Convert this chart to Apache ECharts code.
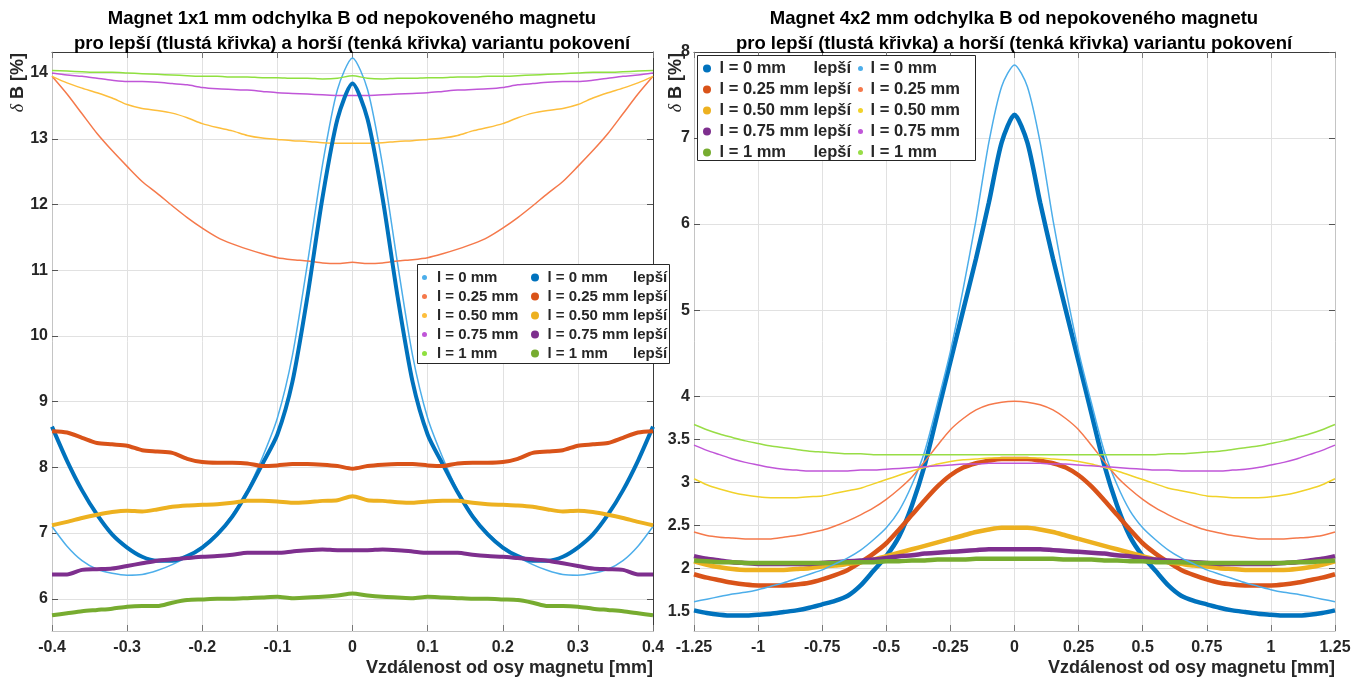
<!DOCTYPE html>
<html>
<head>
<meta charset="utf-8">
<script src="https://cdn.jsdelivr.net/npm/echarts@6/dist/echarts.min.js"></script>
<style>
html,body{margin:0;padding:0;background:#fff;}
#chart{width:1366px;height:681px;}
</style>
</head>
<body>
<div id="chart"></div>
<script>
// ---------- DATA ----------
const xLeft = [-0.40,-0.38,-0.36,-0.34,-0.32,-0.30,-0.28,-0.26,-0.24,-0.22,-0.20,-0.18,-0.16,-0.14,-0.12,-0.10,-0.08,-0.06,-0.04,-0.02,0,
  0.02,0.04,0.06,0.08,0.10,0.12,0.14,0.16,0.18,0.20,0.22,0.24,0.26,0.28,0.30,0.32,0.34,0.36,0.38,0.40];

// Left panel (1x1 mm) - thin = horší, thick = lepší
const leftThin0  = [7.10,6.80,6.58,6.45,6.39,6.36,6.37,6.43,6.52,6.64,6.80,7.00,7.28,7.65,8.15,8.75,9.70,11.10,12.60,13.75,14.23,
  13.75,12.60,11.10,9.70,8.75,8.15,7.65,7.28,7.00,6.80,6.64,6.52,6.43,6.37,6.36,6.39,6.45,6.58,6.80,7.10];
const leftThin25 = [13.95,13.68,13.38,13.08,12.82,12.58,12.35,12.17,11.98,11.80,11.64,11.50,11.40,11.32,11.25,11.19,11.16,11.14,11.11,11.10,11.12,
  11.10,11.11,11.14,11.16,11.19,11.25,11.32,11.40,11.50,11.64,11.80,11.98,12.17,12.35,12.58,12.82,13.08,13.38,13.68,13.95];
const leftThin50 = [13.95,13.85,13.77,13.70,13.62,13.52,13.46,13.43,13.39,13.32,13.23,13.17,13.12,13.05,13.01,12.99,12.97,12.96,12.94,12.93,12.93,
  12.93,12.94,12.96,12.97,12.99,13.01,13.05,13.12,13.17,13.23,13.32,13.39,13.43,13.46,13.52,13.62,13.70,13.77,13.85,13.95];
const leftThin75 = [14.00,13.97,13.95,13.92,13.89,13.87,13.87,13.86,13.84,13.82,13.78,13.76,13.75,13.74,13.72,13.70,13.69,13.68,13.67,13.66,13.66,
  13.66,13.67,13.68,13.69,13.70,13.72,13.74,13.75,13.76,13.78,13.82,13.84,13.86,13.87,13.87,13.89,13.92,13.95,13.97,14.00];
const leftThin1  = [14.04,14.03,14.02,14.01,14.01,14.00,13.99,13.98,13.97,13.96,13.95,13.95,13.94,13.94,13.93,13.93,13.92,13.92,13.91,13.92,13.96,
  13.92,13.91,13.92,13.92,13.93,13.93,13.94,13.94,13.95,13.95,13.96,13.97,13.98,13.99,14.00,14.01,14.01,14.02,14.03,14.04];

const leftThick0  = [8.62,8.10,7.65,7.28,6.98,6.78,6.64,6.58,6.58,6.65,6.78,6.98,7.25,7.62,8.05,8.50,9.30,10.60,12.10,13.30,13.84,
  13.30,12.10,10.60,9.30,8.50,8.05,7.62,7.25,6.98,6.78,6.65,6.58,6.58,6.64,6.78,6.98,7.28,7.65,8.10,8.62];
const leftThick25 = [8.55,8.53,8.45,8.37,8.35,8.33,8.26,8.24,8.22,8.13,8.08,8.07,8.07,8.06,8.02,8.03,8.05,8.05,8.04,8.02,7.98,
  8.02,8.04,8.05,8.05,8.03,8.02,8.06,8.07,8.07,8.08,8.13,8.22,8.24,8.26,8.33,8.35,8.37,8.45,8.53,8.55];
const leftThick50 = [7.12,7.17,7.23,7.28,7.32,7.34,7.33,7.36,7.40,7.42,7.43,7.44,7.46,7.49,7.49,7.48,7.46,7.47,7.49,7.50,7.56,
  7.50,7.49,7.47,7.46,7.48,7.49,7.49,7.46,7.44,7.43,7.42,7.40,7.36,7.33,7.34,7.32,7.28,7.23,7.17,7.12];
const leftThick75 = [6.37,6.37,6.44,6.45,6.46,6.50,6.54,6.58,6.60,6.62,6.64,6.65,6.67,6.70,6.70,6.70,6.72,6.74,6.75,6.74,6.74,
  6.74,6.75,6.74,6.72,6.70,6.70,6.70,6.67,6.65,6.64,6.62,6.60,6.58,6.54,6.50,6.46,6.45,6.44,6.37,6.37];
const leftThick1  = [5.75,5.78,5.81,5.83,5.85,5.88,5.89,5.89,5.94,5.98,5.99,6.00,6.00,6.01,6.02,6.03,6.01,6.02,6.03,6.05,6.08,
  6.05,6.03,6.02,6.01,6.03,6.02,6.01,6.00,6.00,5.99,5.98,5.94,5.89,5.89,5.88,5.85,5.83,5.81,5.78,5.75];

const xRight = [-1.25,-1.20,-1.15,-1.10,-1.05,-1.00,-0.95,-0.90,-0.85,-0.80,-0.75,-0.70,-0.65,-0.60,-0.55,-0.50,-0.45,-0.40,-0.35,-0.30,-0.25,-0.20,-0.15,-0.10,-0.05,0,
  0.05,0.10,0.15,0.20,0.25,0.30,0.35,0.40,0.45,0.50,0.55,0.60,0.65,0.70,0.75,0.80,0.85,0.90,0.95,1.00,1.05,1.10,1.15,1.20,1.25];

// Right panel (4x2 mm)
const rightThick0  = [1.51,1.48,1.46,1.45,1.45,1.46,1.47,1.49,1.51,1.54,1.58,1.62,1.68,1.80,1.97,2.14,2.37,2.73,3.20,3.80,4.40,5.00,5.60,6.25,6.95,7.27,
  6.95,6.25,5.60,5.00,4.40,3.80,3.20,2.73,2.37,2.14,1.97,1.80,1.68,1.62,1.58,1.54,1.51,1.49,1.47,1.46,1.45,1.45,1.46,1.48,1.51];
const rightThick25 = [1.93,1.89,1.86,1.83,1.81,1.80,1.80,1.80,1.81,1.83,1.87,1.92,1.98,2.07,2.17,2.29,2.45,2.62,2.79,2.95,3.08,3.17,3.22,3.25,3.27,3.27,
  3.27,3.25,3.22,3.17,3.08,2.95,2.79,2.62,2.45,2.29,2.17,2.07,1.98,1.92,1.87,1.83,1.81,1.80,1.80,1.80,1.81,1.83,1.86,1.89,1.93];
const rightThick50 = [2.08,2.04,2.01,1.99,1.98,1.98,1.98,1.98,1.99,2.00,2.02,2.03,2.05,2.07,2.10,2.14,2.18,2.22,2.26,2.30,2.34,2.38,2.42,2.45,2.47,2.47,
  2.47,2.45,2.42,2.38,2.34,2.30,2.26,2.22,2.18,2.14,2.10,2.07,2.05,2.03,2.02,2.00,1.99,1.98,1.98,1.98,1.98,1.99,2.01,2.04,2.08];
const rightThick75 = [2.14,2.11,2.09,2.07,2.06,2.05,2.05,2.05,2.05,2.05,2.06,2.07,2.08,2.09,2.10,2.12,2.14,2.15,2.17,2.18,2.19,2.20,2.21,2.22,2.22,2.22,
  2.22,2.22,2.21,2.20,2.19,2.18,2.17,2.15,2.14,2.12,2.10,2.09,2.08,2.07,2.06,2.05,2.05,2.05,2.05,2.05,2.06,2.07,2.09,2.11,2.14];
const rightThick1  = [2.09,2.08,2.07,2.07,2.06,2.06,2.06,2.06,2.06,2.06,2.06,2.06,2.07,2.07,2.07,2.08,2.08,2.09,2.09,2.10,2.10,2.10,2.11,2.11,2.11,2.11,
  2.11,2.11,2.11,2.10,2.10,2.10,2.09,2.09,2.08,2.08,2.07,2.07,2.07,2.06,2.06,2.06,2.06,2.06,2.06,2.06,2.06,2.07,2.07,2.08,2.09];

const rightThin0  = [1.61,1.64,1.67,1.70,1.72,1.75,1.79,1.83,1.88,1.93,1.98,2.05,2.12,2.21,2.33,2.47,2.67,2.97,3.36,3.92,4.52,5.25,6.05,6.95,7.60,7.85,
  7.60,6.95,6.05,5.25,4.52,3.92,3.36,2.97,2.67,2.47,2.33,2.21,2.12,2.05,1.98,1.93,1.88,1.83,1.79,1.75,1.72,1.70,1.67,1.64,1.61];
const rightThin25 = [2.42,2.38,2.36,2.35,2.34,2.34,2.34,2.36,2.38,2.41,2.44,2.49,2.55,2.62,2.70,2.80,2.92,3.06,3.24,3.43,3.61,3.74,3.84,3.90,3.93,3.94,
  3.93,3.90,3.84,3.74,3.61,3.43,3.24,3.06,2.92,2.80,2.70,2.62,2.55,2.49,2.44,2.41,2.38,2.36,2.34,2.34,2.34,2.35,2.36,2.38,2.42];
const rightThin50 = [3.04,2.97,2.92,2.88,2.85,2.83,2.82,2.82,2.82,2.83,2.84,2.87,2.90,2.93,2.98,3.03,3.08,3.13,3.17,3.21,3.24,3.26,3.27,3.28,3.28,3.28,
  3.28,3.28,3.27,3.26,3.24,3.21,3.17,3.13,3.08,3.03,2.98,2.93,2.90,2.87,2.84,2.83,2.82,2.82,2.82,2.83,2.85,2.88,2.92,2.97,3.04];
const rightThin75 = [3.43,3.37,3.32,3.27,3.23,3.20,3.17,3.15,3.14,3.13,3.13,3.13,3.13,3.14,3.14,3.15,3.16,3.17,3.18,3.19,3.20,3.21,3.21,3.22,3.22,3.22,
  3.22,3.22,3.21,3.21,3.20,3.19,3.18,3.17,3.16,3.15,3.14,3.14,3.13,3.13,3.13,3.13,3.14,3.15,3.17,3.20,3.23,3.27,3.32,3.37,3.43];
const rightThin1  = [3.67,3.61,3.56,3.52,3.48,3.45,3.42,3.40,3.38,3.36,3.35,3.34,3.33,3.33,3.32,3.32,3.32,3.32,3.32,3.32,3.32,3.32,3.32,3.32,3.32,3.32,
  3.32,3.32,3.32,3.32,3.32,3.32,3.32,3.32,3.32,3.32,3.32,3.33,3.33,3.34,3.35,3.36,3.38,3.40,3.42,3.45,3.48,3.52,3.56,3.61,3.67];

const thinNames  = ['l = 0 mm','l = 0.25 mm','l = 0.50 mm','l = 0.75 mm','l = 1 mm'];
const thickNames = ['l = 0 mm lepší','l = 0.25 mm lepší','l = 0.50 mm lepší','l = 0.75 mm lepší','l = 1 mm lepší'];
const leftYTicks  = [6,7,8,9,10,11,12,13,14];
const rightYTicks = [1.5,2,2.5,3,3.5,4,5,6,7,8];

const titleLeft  = 'Magnet 1x1 mm odchylka B od nepokoveného magnetu\npro lepší (tlustá křivka) a horší (tenká křivka) variantu pokovení';
const titleRight = 'Magnet 4x2 mm odchylka B od nepokoveného magnetu\npro lepší (tlustá křivka) a horší (tenká křivka) variantu pokovení';
const xName = 'Vzdálenost od osy magnetu [mm]';

// ---------- STYLE ----------
const FONT = '"Liberation Sans", Arial, Helvetica, sans-serif';
const thickColors = ['#0072BD','#D95319','#EDB120','#7E2F8E','#77AC30'];
const thinColorsL = ['#4DAEEA','#F5794B','#FDBE3C','#C056D8','#8FE03F'];
const thinColorsR = ['#4DAEEA','#F5794B','#F1D22A','#C056D8','#98DD46'];
const TXT = '#262626';

function mk(xs, ys, name, color, width, xi, yi, z) {
  return {
    type: 'line', name: name, xAxisIndex: xi, yAxisIndex: yi,
    data: xs.map((x, i) => [x, ys[i]]),
    showSymbol: false, symbol: 'circle', smooth: 0.25, z: z,
    lineStyle: {color: color, width: width},
    itemStyle: {color: color},
    emphasis: {disabled: true}
  };
}

const leftThin  = [leftThin0, leftThin25, leftThin50, leftThin75, leftThin1];
const leftThick = [leftThick0, leftThick25, leftThick50, leftThick75, leftThick1];
const rightThick = [rightThick0, rightThick25, rightThick50, rightThick75, rightThick1];
const rightThin  = [rightThin0, rightThin25, rightThin50, rightThin75, rightThin1];

const series = [];
leftThin.forEach((d, i) => series.push(mk(xLeft, d, thinNames[i], thinColorsL[i], 1.5, 0, 0, 2)));
leftThick.forEach((d, i) => series.push(mk(xLeft, d, thickNames[i], thickColors[i], 4, 0, 0, 3)));
// right panel series use a trailing space in names to keep legends separate
rightThick.forEach((d, i) => series.push(mk(xRight, d, thickNames[i] + ' ', thickColors[i], 4.5, 2, 2, 2)));
rightThin.forEach((d, i) => series.push(mk(xRight, d, thinNames[i] + ' ', thinColorsR[i], 1.5, 2, 2, 3)));

function xAxisMain(grid, min, max, interval) {
  return {
    type: 'value', gridIndex: grid, min: min, max: max, interval: interval,
    axisLine: {show: true, onZero: false, lineStyle: {color: '#c4c4c4', width: 1}},
    axisTick: {show: true, inside: true, length: 6, lineStyle: {color: '#777'}},
    axisLabel: {show: true, margin: 9, color: TXT, fontSize: 16, fontWeight: 'bold', fontFamily: FONT},
    splitLine: {show: true, lineStyle: {color: '#e1e1e1', width: 1}},
    name: xName, nameLocation: 'end', nameGap: 0, nameMoveOverlap: false,
    nameTextStyle: {color: TXT, fontSize: 18, fontWeight: 'bold', fontFamily: FONT,
      align: 'right', verticalAlign: 'top', padding: [28, 0, 0, 0]}
  };
}
function xAxisTop(grid, min, max, interval, lineColor) {
  return {
    type: 'value', gridIndex: grid, position: 'top', min: min, max: max, interval: interval,
    axisLine: {show: true, onZero: false, lineStyle: {color: lineColor, width: 1}},
    axisTick: {show: true, inside: true, length: 6, lineStyle: {color: '#777'}},
    axisLabel: {show: false}, splitLine: {show: false}
  };
}
function yAxisMain(grid, min, max, ticks, pad) {
  return {
    type: 'value', gridIndex: grid, min: min, max: max,
    axisLine: {show: true, onZero: false, lineStyle: {color: '#c4c4c4', width: 1}},
    axisTick: {show: true, inside: true, length: 6, customValues: ticks, lineStyle: {color: '#555'}},
    axisLabel: {show: true, margin: 4, customValues: ticks, color: TXT, fontSize: 16, fontWeight: 'bold', fontFamily: FONT},
    splitLine: {show: true, lineStyle: {color: '#e1e1e1', width: 1}},
    name: '{d|δ} B [%]', nameLocation: 'end', nameGap: -1, nameRotate: 90, nameMoveOverlap: false,
    nameTextStyle: {color: TXT, fontSize: 18, fontWeight: 'bold', fontFamily: FONT,
      align: 'right', verticalAlign: 'bottom', padding: [0, 0, pad, 0],
      rich: {d: {fontStyle: 'italic', fontWeight: 'normal', fontSize: 18, fontFamily: '"Liberation Serif", serif', color: TXT}}}
  };
}
function yAxisRight(grid, min, max, ticks, lineColor) {
  return {
    type: 'value', gridIndex: grid, position: 'right', min: min, max: max,
    axisLine: {show: true, onZero: false, lineStyle: {color: lineColor, width: 1}},
    axisTick: {show: true, inside: true, length: 6, customValues: ticks, lineStyle: {color: '#555'}},
    axisLabel: {show: false, customValues: ticks}, splitLine: {show: false}
  };
}

function legend(left, top, names, itemW, itemH, fontSize, lineHeight, richW) {
  const lg = {
    show: true, orient: 'vertical', left: left, top: top, padding: 0, itemGap: 0,
    itemWidth: itemW, itemHeight: itemH, icon: 'circle', selectedMode: false, z: 20,
    data: names.map(n => ({name: n, icon: 'circle'})),
    textStyle: {color: TXT, fontSize: fontSize, fontWeight: 'bold', fontFamily: FONT, lineHeight: lineHeight}
  };
  if (richW) {
    lg.formatter = function (name) {
      const s = name.trim().replace(/ lepší$/, '');
      return '{a|' + s + '}{b|lepší}';
    };
    lg.textStyle.rich = {
      a: {width: richW, fontSize: fontSize, fontWeight: 'bold', fontFamily: FONT, color: TXT, lineHeight: lineHeight},
      b: {fontSize: fontSize, fontWeight: 'bold', fontFamily: FONT, color: TXT, lineHeight: lineHeight}
    };
  } else {
    lg.formatter = function (name) { return name.trim(); };
  }
  return lg;
}

const option = {
  animation: false,
  backgroundColor: '#ffffff',
  title: [
    {text: titleLeft, left: 352, top: 6, padding: 0, textAlign: 'center',
     textStyle: {color: '#000', fontSize: 18.5, fontWeight: 'bold', fontFamily: FONT, lineHeight: 25}},
    {text: titleRight, left: 1014, top: 6, padding: 0, textAlign: 'center',
     textStyle: {color: '#000', fontSize: 18.5, fontWeight: 'bold', fontFamily: FONT, lineHeight: 25}}
  ],
  grid: [
    {left: 52, top: 52, width: 601, height: 579, containLabel: false, outerBoundsMode: 'none'},
    {left: 694, top: 52, width: 641, height: 579, containLabel: false, outerBoundsMode: 'none'}
  ],
  xAxis: [
    xAxisMain(0, -0.4, 0.4, 0.1),
    xAxisTop(0, -0.4, 0.4, 0.1, '#3a3a3a'),
    xAxisMain(1, -1.25, 1.25, 0.25),
    xAxisTop(1, -1.25, 1.25, 0.25, '#3a3a3a')
  ],
  yAxis: [
    yAxisMain(0, 5.51, 14.32, leftYTicks, 25),
    yAxisRight(0, 5.51, 14.32, leftYTicks, '#3a3a3a'),
    yAxisMain(1, 1.27, 8, rightYTicks, 9),
    yAxisRight(1, 1.27, 8, rightYTicks, '#c4c4c4')
  ],
  legend: [
    legend(422, 268, thinNames, 15, 5, 15, 19, null),
    legend(531, 268, thickNames, 15, 8, 15, 19, 85.5),
    legend(703, 58, thickNames.map(n => n + ' '), 15, 8, 16.5, 21, 94),
    legend(858, 58, thinNames.map(n => n + ' '), 10, 5, 16.5, 21, null)
  ],
  graphic: {
    elements: [
      {type: 'rect', z: 15, shape: {x: 417.5, y: 264.5, width: 252, height: 99},
       style: {fill: '#ffffff', stroke: '#262626', lineWidth: 1}},
      {type: 'rect', z: 15, shape: {x: 697.5, y: 55.5, width: 278, height: 105},
       style: {fill: '#ffffff', stroke: '#262626', lineWidth: 1}}
    ]
  },
  series: series
};

const chart = echarts.init(document.getElementById('chart'), null, {renderer: 'canvas'});
chart.setOption(option);
</script>
</body>
</html>
